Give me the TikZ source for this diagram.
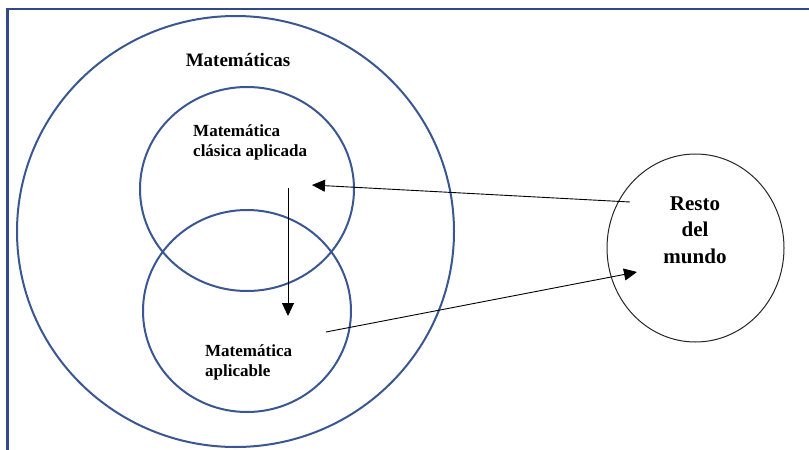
\documentclass[tikz,border=0pt]{standalone}
\usepackage{fontspec}
\setmainfont{Liberation Serif}
\usetikzlibrary{shapes.geometric,arrows.meta}
\definecolor{frameblue}{HTML}{2F4A85}
\definecolor{ringblue}{HTML}{3A5791}
\begin{document}
\begin{tikzpicture}[x=1pt,y=-1pt,
  ring/.style={draw=ringblue,line width=2pt,ellipse,inner sep=0pt},
  world/.style={draw=black!85,line width=1pt,ellipse,inner sep=0pt},
  lbl/.style={font=\bfseries,inner sep=0pt},
  conn/.style={line width=0.9pt,-{Triangle[length=13pt,width=12pt]}}]
\useasboundingbox (0,0) rectangle (809,450);
\fill[white] (0,0) rectangle (809,450);
% frame (top and left sides)
\draw[frameblue,line width=2.5pt] (809,9) -- (7.5,9) -- (7.5,450);
% circles
\node[ring,minimum width=437pt,minimum height=431pt] (mat) at (235.5,231.5) {};
\node[ring,minimum width=214pt,minimum height=204pt] (clas) at (247,189) {};
\node[ring,minimum width=208pt,minimum height=202pt] (apl) at (247,311) {};
\node[world,minimum width=177pt,minimum height=188pt] (resto) at (695.5,248) {};
% labels
\node[lbl,font=\bfseries\fontsize{19}{22}\selectfont,anchor=base] (tmat) at (238,66) {Matemáticas};
\node[lbl,font=\bfseries\fontsize{17}{20}\selectfont,anchor=base west,align=left] (tclas) at (193,156) {Matemática\\clásica aplicada};
\node[lbl,font=\bfseries\fontsize{17}{20}\selectfont,anchor=base west,align=left] (tapl) at (205,376) {Matemática\\aplicable};
\node[lbl,font=\bfseries\fontsize{21}{26.5}\selectfont,anchor=base,align=center] (tresto) at (695,263) {Resto\\del\\mundo};
% connector ends
\coordinate (a1s) at (630,202);
\coordinate (a1e) at (312,185);
\coordinate (a2s) at (288,188);
\coordinate (a2e) at (288,316);
\coordinate (a3s) at (326,332);
\coordinate (a3e) at (637,272);
\draw[conn] (a1s) -- (a1e);
\draw[conn] (a2s) -- (a2e);
\draw[conn] (a3s) -- (a3e);
\end{tikzpicture}
\end{document}
